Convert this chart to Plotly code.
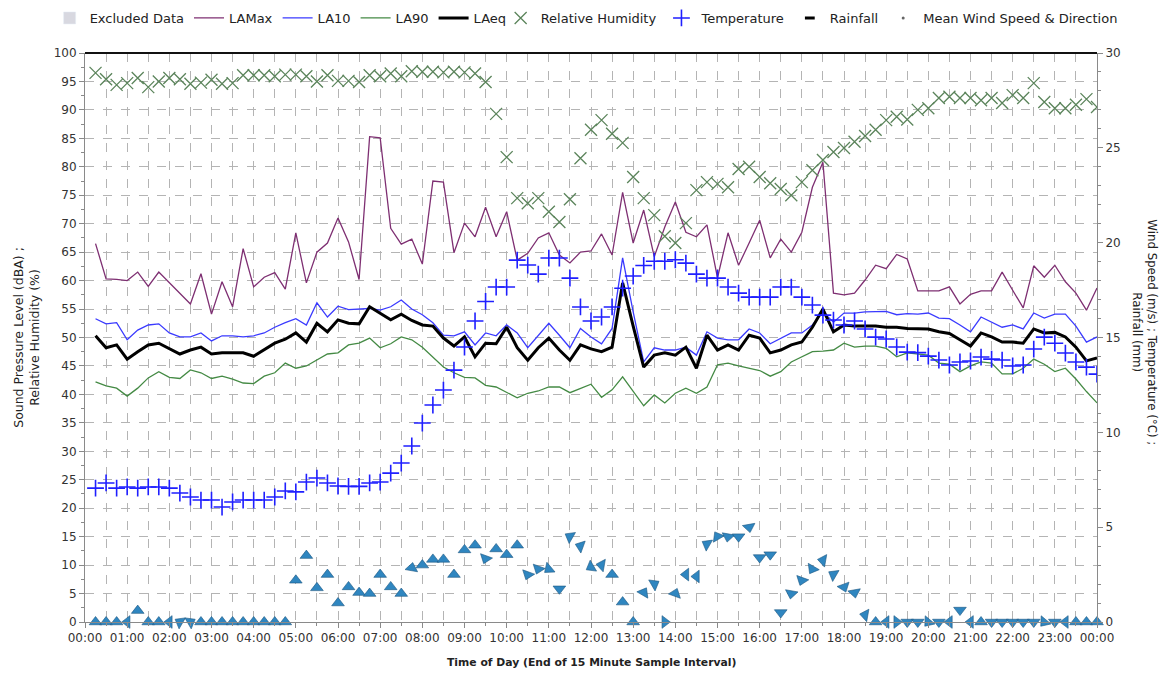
import plotly.graph_objects as go

# ---------------------------------------------------------------------------
# Data: 15-minute intervals, value at end of interval (00:15 ... 24:00)
# ---------------------------------------------------------------------------
hours = [i * 0.25 for i in range(1, 97)]

la_max = [66.5, 60.3, 60.2, 60.0, 61.5, 59.0, 61.5, 59.6, 57.8, 55.9, 61.2, 54.1,
          59.8, 55.4, 65.6, 58.9, 60.6, 61.4, 58.5, 68.4, 59.6, 65.0, 66.6, 71.0,
          66.8, 60.2, 85.3, 85.1, 69.2, 66.4, 67.3, 62.9, 77.5, 77.3, 64.9, 70.1,
          67.7, 72.9, 67.7, 72.1, 63.6, 64.8, 67.5, 68.4, 64.5, 63.1, 65.0, 65.2,
          68.2, 64.5, 75.5, 66.6, 72.4, 64.2, 69.4, 73.8, 68.5, 67.7, 69.8, 60.5,
          68.4, 62.7, 66.6, 70.6, 64.0, 67.3, 65.0, 68.5, 76.4, 80.8, 57.8, 57.5,
          57.8, 60.1, 62.7, 62.1, 64.6, 63.8, 58.2, 58.2, 58.2, 58.9, 55.9, 57.6,
          58.2, 58.2, 61.5, 58.3, 55.2, 62.6, 60.6, 62.7, 59.8, 57.8, 54.8, 58.7]

la10 = [53.3, 52.4, 52.6, 49.6, 51.3, 52.2, 52.4, 50.8, 50.1, 50.1, 50.8, 49.4,
        50.3, 50.3, 50.1, 50.3, 50.8, 51.8, 52.6, 53.3, 52.2, 56.1, 53.6, 55.5,
        54.9, 55.0, 55.1, 54.8, 55.4, 56.6, 55.0, 54.0, 52.6, 50.4, 50.3, 51.0,
        48.7, 50.8, 50.3, 52.2, 50.8, 48.2, 50.4, 52.5, 50.4, 48.2, 51.6, 50.1,
        48.9, 51.6, 64.0, 54.5, 45.7, 48.2, 47.8, 47.8, 48.3, 46.9, 51.0, 49.9,
        49.6, 49.6, 51.5, 50.8, 48.9, 49.9, 50.8, 50.8, 52.2, 54.5, 52.7, 54.3,
        54.3, 54.5, 54.5, 54.6, 54.0, 54.2, 54.1, 54.3, 53.4, 53.3, 52.2, 51.0,
        53.6, 52.7, 51.8, 52.2, 51.5, 54.3, 53.4, 54.1, 54.1, 52.0, 49.2, 50.1]

la90 = [42.2, 41.5, 41.1, 39.7, 41.1, 42.9, 44.0, 43.0, 42.8, 44.3, 43.8, 42.8,
        43.2, 42.7, 42.0, 41.9, 43.2, 43.8, 45.5, 44.6, 45.0, 46.0, 47.1, 47.3,
        48.7, 49.0, 49.9, 48.2, 48.9, 50.1, 49.6, 48.3, 46.6, 44.8, 43.8, 43.0,
        42.9, 41.6, 41.3, 40.3, 39.4, 40.2, 40.6, 41.3, 41.3, 40.3, 41.1, 41.8,
        39.5, 40.8, 43.1, 40.5, 38.0, 39.9, 38.5, 40.2, 41.1, 40.2, 41.3, 45.2,
        45.5, 45.0, 44.6, 44.2, 43.2, 44.0, 45.7, 46.6, 47.5, 47.6, 47.8, 49.0,
        48.3, 48.5, 48.5, 48.1, 46.6, 47.3, 47.1, 46.9, 45.5, 45.3, 44.0, 45.0,
        45.7, 45.5, 43.6, 43.6, 44.6, 46.2, 45.3, 44.0, 44.6, 42.7, 40.5, 38.5]

la_eq = [50.3, 48.2, 48.7, 46.2, 47.5, 48.7, 49.0, 48.0, 47.1, 47.8, 48.3, 47.1,
         47.3, 47.3, 47.3, 46.7, 47.8, 49.0, 49.7, 50.8, 49.2, 52.5, 51.0, 53.1,
         52.5, 52.4, 55.4, 54.3, 53.1, 54.1, 53.0, 52.2, 52.0, 49.9, 48.5, 50.1,
         46.6, 49.0, 48.9, 51.8, 48.2, 46.0, 48.2, 49.9, 47.8, 46.0, 48.7, 48.0,
         47.5, 48.3, 59.6, 52.0, 44.8, 46.9, 47.3, 46.9, 48.3, 44.6, 50.4, 47.8,
         48.7, 47.8, 50.4, 49.9, 47.3, 47.8, 48.7, 49.2, 51.8, 55.0, 51.0, 52.2,
         52.0, 52.0, 52.0, 51.8, 51.8, 51.6, 51.5, 51.5, 51.0, 50.7, 49.6, 48.5,
         50.8, 50.1, 49.2, 49.2, 49.0, 51.5, 50.8, 50.9, 50.1, 48.3, 45.9, 46.4]

rel_humidity = [96.5, 95.4, 94.4, 94.7, 95.6, 94.0, 95.0, 95.6, 95.4, 94.6, 94.8, 95.3,
                94.6, 94.7, 96.1, 96.1, 96.1, 95.9, 96.2, 96.2, 95.9, 95.0, 96.1, 95.1,
                95.1, 94.9, 96.1, 95.9, 96.4, 95.9, 96.8, 96.7, 96.7, 96.6, 96.7, 96.6,
                96.4, 94.9, 89.3, 81.7, 74.5, 73.6, 74.5, 72.1, 70.3, 74.3, 81.5, 86.5,
                88.2, 85.8, 84.2, 78.2, 74.5, 71.5, 67.8, 66.6, 70.1, 75.9, 77.3, 77.0,
                76.4, 79.6, 80.0, 78.2, 77.1, 76.1, 75.0, 77.3, 79.4, 81.2, 82.6, 83.3,
                84.4, 85.4, 86.5, 88.2, 88.8, 88.3, 90.0, 90.3, 92.1, 92.3, 92.1, 92.1,
                91.7, 92.1, 91.2, 92.6, 92.1, 94.7, 91.4, 90.3, 90.3, 90.9, 91.9, 90.5]

temperature = [7.06, 7.33, 7.06, 7.12, 7.06, 7.12, 7.12, 7.06, 6.80, 6.59, 6.43, 6.43,
               6.06, 6.33, 6.43, 6.43, 6.43, 6.59, 6.91, 6.86, 7.38, 7.59, 7.33, 7.17,
               7.15, 7.15, 7.33, 7.38, 7.85, 8.38, 9.28, 10.49, 11.44, 12.23, 13.28, 14.50,
               15.87, 16.90, 17.66, 17.66, 19.08, 18.82, 18.34, 19.19, 19.19, 18.13, 16.61, 15.87,
               16.08, 16.61, 17.60, 18.24, 18.80, 19.02, 19.02, 19.10, 18.92, 18.34, 18.13, 18.13,
               17.66, 17.34, 17.13, 17.13, 17.13, 17.66, 17.66, 17.13, 16.71, 16.18, 15.92, 15.66,
               15.87, 15.45, 15.02, 14.92, 14.50, 14.23, 14.20, 14.02, 13.81, 13.55, 13.71, 13.76,
               13.97, 13.86, 13.81, 13.50, 13.55, 14.39, 15.02, 14.70, 14.18, 13.71, 13.44, 13.07]

wind_speed = [0, 0, 0, 0, 0.6, 0, 0, 0, 0, 0, 0, 0,
              0, 0, 0, 0, 0, 0, 0, 2.2, 3.5, 1.8, 2.5, 1.0,
              1.85, 1.55, 1.5, 2.5, 1.85, 1.5, 2.85, 3.0, 3.3, 3.3, 2.5, 3.8,
              4.05, 3.35, 3.85, 3.55, 4.05, 2.5, 2.8, 2.8, 1.75, 4.5, 4.0, 2.9,
              3.0, 2.5, 1.05, 0, 1.55, 2.0, 0, 1.5, 2.5, 2.4, 4.1, 4.5,
              4.5, 4.5, 5.0, 3.4, 3.55, 0.5, 1.5, 2.2, 2.8, 3.25, 2.5, 1.85,
              1.55, 0.37, 0, 0, 0, 0, 0, 0, 0, 0, 0.63, 0,
              0, 0, 0, 0, 0, 0, 0, 0, 0, 0, 0, 0]

# direction the arrow points, degrees clockwise from north
wind_dir_deg = [0, 0, 0, 270, 0, 0, 0, 270, 300, 60, 0, 0,
                0, 0, 0, 0, 0, 0, 0, 0, 0, 0, 0, 0,
                0, 0, 0, 0, 0, 0, 10, 0, 0, 0, 0, 0,
                0, 200, 0, 0, 0, 200, 200, 230, 180, 300, 290, 240,
                280, 0, 0, 0, 30, 60, 90, 20, 270, 270, 300, 330,
                190, 180, 170, 180, 180, 180, 190, 200, 210, 280, 300, 160,
                170, 280, 0, 270, 90, 180, 180, 220, 180, 270, 180, 270,
                0, 180, 180, 180, 180, 180, 220, 180, 270, 0, 0, 0]

x_tick_vals = list(range(0, 25))
x_tick_text = [f"{h % 24:02d}:00" for h in x_tick_vals]

FONT = "DejaVu Sans"
GRID = "#b4b4b4"
AXIS = "#8a8a8a"

fig = go.Figure()

# --- noise levels (first legend block) -------------------------------------
fig.add_trace(go.Bar(x=[None], y=[None], name="Excluded Data", legend="legend",
                     marker=dict(color="#d8d8e0")))
fig.add_trace(go.Scatter(x=hours, y=la_max, name="LAMax", mode="lines", legend="legend",
                         line=dict(color="#7e2f72", width=1.3)))
fig.add_trace(go.Scatter(x=hours, y=la10, name="LA10", mode="lines", legend="legend",
                         line=dict(color="#3a3aff", width=1.3)))
fig.add_trace(go.Scatter(x=hours, y=la90, name="LA90", mode="lines", legend="legend",
                         line=dict(color="#448a44", width=1.3)))
fig.add_trace(go.Scatter(x=hours, y=la_eq, name="LAeq", mode="lines", legend="legend",
                         line=dict(color="#000000", width=3)))

# --- weather (second legend block) -----------------------------------------
fig.add_trace(go.Scatter(x=hours, y=rel_humidity, name="Relative Humidity", mode="markers",
                         legend="legend2",
                         marker=dict(symbol="x-thin-open", size=12, color="#5b845b",
                                     line=dict(width=1.3))))
fig.add_trace(go.Scatter(x=hours, y=temperature, name="Temperature", mode="markers",
                         yaxis="y2", legend="legend2",
                         marker=dict(symbol="cross-thin-open", size=12, color="#1f1fff",
                                     line=dict(width=1.6))))
fig.add_trace(go.Scatter(x=[None], y=[None], name="Rainfall", mode="markers",
                         yaxis="y2", legend="legend2",
                         marker=dict(symbol="line-ew-open", size=7, color="#000000",
                                     line=dict(width=3))))
fig.add_trace(go.Scatter(x=hours, y=wind_speed, name="Mean Wind Speed & Direction",
                         mode="markers", yaxis="y2", showlegend=False, cliponaxis=False,
                         marker=dict(symbol="triangle-up", size=11, angle=wind_dir_deg,
                                     color="#2f86c0",
                                     line=dict(color="#1b5680", width=0.6))))
fig.add_trace(go.Scatter(x=[None], y=[None], name="Mean Wind Speed & Direction",
                         mode="markers", yaxis="y2", legend="legend2",
                         marker=dict(symbol="circle", size=3, color="#666666")))

legend_common = dict(orientation="h", xref="container", yref="container",
                     y=0.985, xanchor="left", yanchor="middle",
                     font=dict(family=FONT, size=13, color="#222222"), itemwidth=30,
                     bgcolor="rgba(0,0,0,0)", tracegroupgap=0)

fig.update_layout(
    width=1160, height=666,
    margin=dict(l=77, r=71, t=45, b=52, autoexpand=False),
    paper_bgcolor="white", plot_bgcolor="white",
    font=dict(family=FONT, size=12, color="#333333"),
    showlegend=True,
    legend=dict(x=0.0359, **legend_common),
    legend2=dict(x=0.4247, **legend_common),
    xaxis=dict(range=[0, 24], tickvals=x_tick_vals, ticktext=x_tick_text,
               showgrid=True, gridcolor=GRID, griddash="dash", gridwidth=1,
               minor=dict(dtick=0.5, showgrid=True, gridcolor=GRID, griddash="dash",
                          ticks="outside", ticklen=3, tickcolor=AXIS),
               ticks="outside", ticklen=5, tickcolor=AXIS,
               showline=True, linecolor=AXIS, linewidth=1,
               zeroline=False, tickfont=dict(size=12, color="#333333")),
    yaxis=dict(range=[0, 100], dtick=5, showgrid=True, gridcolor=GRID,
               griddash="dash", gridwidth=1, zeroline=False,
               ticks="outside", ticklen=5, tickcolor=AXIS,
               minor=dict(dtick=2.5, ticks="outside", ticklen=3,
                          tickcolor=AXIS, showgrid=False),
               showline=True, linecolor=AXIS, linewidth=1,
               tickfont=dict(size=12, color="#333333")),
    yaxis2=dict(range=[0, 30], dtick=5, overlaying="y", side="right",
                showgrid=False, zeroline=False,
                ticks="outside", ticklen=5, tickcolor=AXIS,
                minor=dict(dtick=1, ticks="outside", ticklen=3,
                           tickcolor=AXIS, showgrid=False),
                showline=True, linecolor=AXIS, linewidth=1,
                tickfont=dict(size=12, color="#333333")),
    shapes=[dict(type="line", xref="paper", yref="paper", x0=0, x1=1, y0=1, y1=1,
                 line=dict(color="#111111", width=2))],
    annotations=[
        dict(text="Sound Pressure Level (dBA) ;<br>Relative Humidity (%)",
             xref="paper", yref="paper", x=-0.058, y=0.5, xanchor="center",
             yanchor="middle", textangle=-90, showarrow=False,
             font=dict(family=FONT, size=12.5, color="#222222")),
        dict(text="Wind Speed (m/s) ; Temperature (\u00b0C) ;<br>Rainfall (mm)",
             xref="paper", yref="paper", x=1.047, y=0.51, xanchor="center",
             yanchor="middle", textangle=90, showarrow=False,
             font=dict(family=FONT, size=11.8, color="#222222")),
        dict(text="<b>Time of Day (End of 15 Minute Sample Interval)</b>",
             xref="paper", yref="paper", x=0.5, y=-0.0703, xanchor="center",
             yanchor="middle", showarrow=False,
             font=dict(family=FONT, size=10.8, color="#222222")),
    ],
)

fig.write_html("out.html")
